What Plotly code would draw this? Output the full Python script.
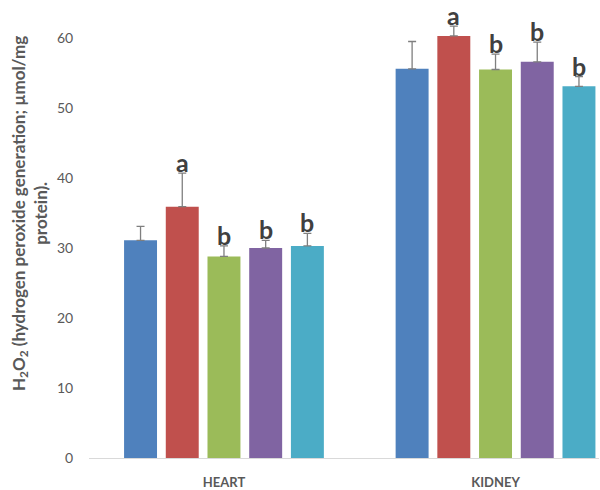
import plotly.graph_objects as go

# Tissues on the x axis
organs = ["HEART", "KIDNEY"]

# Five experimental groups (one bar per group in each tissue)
group_names = ["Group 1", "Group 2", "Group 3", "Group 4", "Group 5"]
group_colors = ["#4F81BD", "#C0504D", "#9BBB59", "#8064A2", "#4BACC6"]

# Mean H2O2 generation (µmol/mg protein) per group: [heart, kidney]
means = [
    [31.1, 55.6],
    [35.9, 60.3],
    [28.8, 55.5],
    [30.0, 56.6],
    [30.3, 53.1],
]
# Upper error (SE) per group: [heart, kidney]
errors = [
    [2.0, 3.9],
    [4.8, 1.4],
    [1.5, 2.2],
    [1.1, 2.8],
    [1.8, 1.4],
]
# Significance letters per group: [heart, kidney]
letters = [
    ["", ""],
    ["a", "a"],
    ["b", "b"],
    ["b", "b"],
    ["b", "b"],
]

y_ticks = [0, 10, 20, 30, 40, 50, 60]

BARGAP = 0.232
GROUPGAP = 0.21

fig = go.Figure()
for name, color, vals, errs in zip(group_names, group_colors, means, errors):
    fig.add_trace(go.Bar(
        x=organs,
        y=vals,
        name=name,
        marker=dict(color=color, line=dict(width=0)),
        error_y=dict(type="data", array=errs, symmetric=False,
                     arrayminus=[0] * len(errs),
                     color="#7F7F7F", thickness=1.3, width=4),
        showlegend=False,
    ))

# Significance letters sit on top of each error bar
n = len(group_names)
slot = (1 - BARGAP) / n
for j in range(n):
    for i in range(len(organs)):
        if not letters[j][i]:
            continue
        fig.add_annotation(
            x=i + (j - (n - 1) / 2) * slot,
            y=means[j][i] + errors[j][i],
            xref="x", yref="y",
            text=letters[j][i],
            showarrow=False,
            yanchor="bottom",
            yshift=-6,
            font=dict(family="Lato", size=25, color="#404040", weight="bold"),
        )

# Y axis title
fig.add_annotation(
    xref="paper", yref="paper",
    x=-0.117, y=0.537,
    xanchor="center", yanchor="middle",
    text="H<sub>2</sub>O<sub>2</sub> (hydrogen peroxide generation; µmol/mg<br>protein).",
    textangle=-90,
    showarrow=False,
    font=dict(family="Lato", size=17, color="#595959", weight="bold"),
    align="center",
)

fig.update_layout(
    width=600, height=490,
    margin=dict(l=89, r=1, t=3, b=32),
    paper_bgcolor="white",
    plot_bgcolor="white",
    barmode="group",
    bargap=BARGAP,
    bargroupgap=GROUPGAP,
    font=dict(family="Lato", color="#595959"),
    xaxis=dict(
        range=[-0.497, 1.381],
        showline=True, linecolor="#D9D9D9", linewidth=1,
        ticks="outside", ticklen=12, tickcolor="rgba(0,0,0,0)",
        showgrid=False,
        tickfont=dict(family="Lato", size=13, color="#595959", weight="bold"),
    ),
    yaxis=dict(
        range=[0, 65],
        tickvals=y_ticks,
        showline=False, showgrid=False, zeroline=False,
        ticks="outside", ticklen=12, tickcolor="rgba(0,0,0,0)",
        tickfont=dict(family="Lato", size=14, color="#595959"),
    ),
)

fig.write_html("out.html")
